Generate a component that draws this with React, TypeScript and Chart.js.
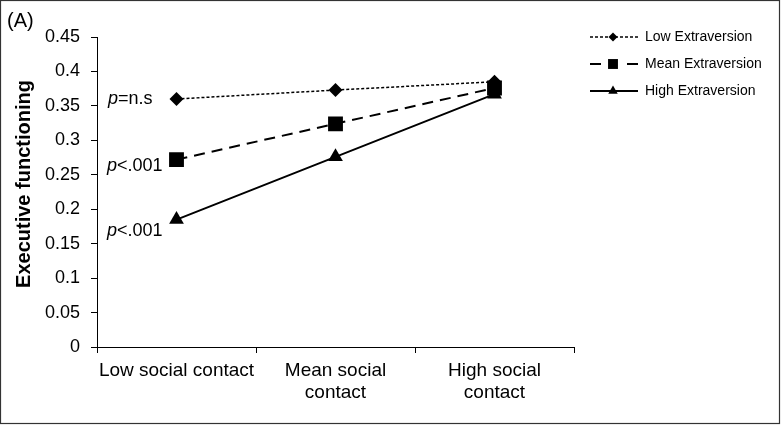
import React, { useEffect, useRef } from 'react';
import { Chart, registerables } from 'chart.js';

Chart.register(...registerables);

const categories: (string | string[])[] = ['Low social contact', ['Mean social', 'contact'], ['High social', 'contact']];
const seriesNames = ['Low Extraversion', 'Mean Extraversion', 'High Extraversion'];
const lowExtraversion = [0.36, 0.373, 0.385];
const meanExtraversion = [0.272, 0.324, 0.376];
const highExtraversion = [0.185, 0.276, 0.367];
const yTicks = [0, 0.05, 0.1, 0.15, 0.2, 0.25, 0.3, 0.35, 0.4, 0.45];
const yTickLabels = ['0', '0.05', '0.1', '0.15', '0.2', '0.25', '0.3', '0.35', '0.4', '0.45'];
const annotationItalic = ['p', 'p', 'p'];
const annotationRest = ['=n.s', '<.001', '<.001'];
const yAxisTitle = 'Executive functioning';
const panelLabel = '(A)';

const FONT = "'Liberation Sans', Arial, sans-serif";

const seriesStyles = [
  { dash: [3, 2], width: 1.5, point: 'rectRot', radius: 7, legendRadius: 4.5 },
  { dash: [11, 7], width: 2, point: 'rect', radius: 10.5, legendRadius: 7 },
  { dash: [], width: 2, point: 'triangle', radius: 8.5, legendRadius: 5.5 },
];

const annotationOffsets = [
  { dx: -24, dy: 0 },
  { dx: -14, dy: 6 },
  { dx: -14, dy: 11 },
];

function drawMarker(ctx: CanvasRenderingContext2D, style: string, x: number, y: number, r: number) {
  ctx.beginPath();
  if (style === 'rectRot') {
    ctx.moveTo(x, y - r);
    ctx.lineTo(x + r, y);
    ctx.lineTo(x, y + r);
    ctx.lineTo(x - r, y);
  } else if (style === 'rect') {
    const s = r * Math.SQRT1_2;
    ctx.rect(x - s, y - s, 2 * s, 2 * s);
  } else {
    const w = (r * Math.sqrt(3)) / 2;
    ctx.moveTo(x, y - r);
    ctx.lineTo(x + w, y + r / 2);
    ctx.lineTo(x - w, y + r / 2);
  }
  ctx.closePath();
  ctx.fill();
}

const extrasPlugin = {
  id: 'extras',
  afterDraw(chart: any) {
    const ctx = chart.ctx;
    const xs = chart.scales.x;
    const ys = chart.scales.y;
    ctx.save();
    // frame
    ctx.strokeStyle = '#333';
    ctx.lineWidth = 1.2;
    ctx.setLineDash([]);
    ctx.strokeRect(0.5, 0.5, chart.width - 2, chart.height - 2);
    // panel label
    ctx.fillStyle = '#000';
    ctx.font = `20px ${FONT}`;
    ctx.textAlign = 'left';
    ctx.textBaseline = 'middle';
    ctx.fillText(panelLabel, 7, 21);
    // y axis title
    ctx.save();
    ctx.translate(24, 184);
    ctx.rotate(-Math.PI / 2);
    ctx.font = `bold 20px ${FONT}`;
    ctx.textAlign = 'center';
    ctx.textBaseline = 'middle';
    ctx.fillText(yAxisTitle, 0, 0);
    ctx.restore();
    // annotations
    const allData = [lowExtraversion, meanExtraversion, highExtraversion];
    for (let i = 0; i < 3; i++) {
      const px = xs.getPixelForValue(0) + annotationOffsets[i].dx;
      const py = ys.getPixelForValue(allData[i][0]) + annotationOffsets[i].dy;
      ctx.font = `18px ${FONT}`;
      const restW = ctx.measureText(annotationRest[i]).width;
      ctx.font = `italic 18px ${FONT}`;
      const pW = ctx.measureText(annotationItalic[i]).width;
      const startX = px - restW - pW;
      ctx.textAlign = 'left';
      ctx.textBaseline = 'middle';
      ctx.fillText(annotationItalic[i], startX, py);
      ctx.font = `18px ${FONT}`;
      ctx.fillText(annotationRest[i], startX + pW, py);
    }
    // legend
    const legendX0 = 590;
    const legendX1 = 638;
    const markerX = 613;
    const rows = [37, 64, 91];
    for (let i = 0; i < 3; i++) {
      const st = seriesStyles[i];
      const y = rows[i];
      ctx.strokeStyle = '#000';
      ctx.lineWidth = st.width;
      ctx.beginPath();
      if (i === 1) {
        ctx.setLineDash([]);
        ctx.moveTo(legendX0, y);
        ctx.lineTo(legendX0 + 11, y);
        ctx.moveTo(legendX1 - 11, y);
        ctx.lineTo(legendX1, y);
      } else {
        ctx.setLineDash(st.dash);
        ctx.moveTo(legendX0, y);
        ctx.lineTo(legendX1, y);
      }
      ctx.stroke();
      ctx.setLineDash([]);
      ctx.fillStyle = '#000';
      drawMarker(ctx, st.point, markerX, y, st.legendRadius);
      ctx.font = `14px ${FONT}`;
      ctx.textAlign = 'left';
      ctx.textBaseline = 'middle';
      ctx.fillText(seriesNames[i], 645, y);
    }
    ctx.restore();
  },
};

export default function App() {
  const canvasRef = useRef<HTMLCanvasElement | null>(null);

  useEffect(() => {
    if (!canvasRef.current) return;
    const allData = [lowExtraversion, meanExtraversion, highExtraversion];
    const chart = new Chart(canvasRef.current, {
      type: 'line',
      data: {
        labels: categories as any,
        datasets: allData.map((d, i) => ({
          label: seriesNames[i],
          data: d,
          borderColor: '#000',
          backgroundColor: '#000',
          borderWidth: seriesStyles[i].width,
          borderDash: seriesStyles[i].dash,
          pointStyle: seriesStyles[i].point as any,
          pointRadius: seriesStyles[i].radius,
          pointBackgroundColor: '#000',
          pointBorderColor: '#000',
          pointBorderWidth: 0,
          tension: 0,
          fill: false,
        })),
      },
      options: {
        animation: false,
        responsive: true,
        maintainAspectRatio: false,
        layout: { padding: { left: 0, top: 37, right: 207, bottom: 0 } },
        plugins: {
          legend: { display: false },
          tooltip: { enabled: false },
        },
        scales: {
          x: {
            type: 'category',
            offset: true,
            grid: { drawOnChartArea: false, color: '#000', tickLength: 6, offset: true },
            border: { color: '#000', width: 1 },
            ticks: {
              color: '#000',
              font: { family: FONT, size: 19 },
              maxRotation: 0,
              minRotation: 0,
              autoSkip: false,
              padding: 6,
            },
            afterFit: (s: any) => {
              s.height = 78;
            },
          },
          y: {
            min: 0,
            max: 0.45,
            afterBuildTicks: (s: any) => {
              s.ticks = yTicks.map((v) => ({ value: v }));
            },
            grid: { drawOnChartArea: false, color: '#000', tickLength: 6 },
            border: { color: '#000', width: 1 },
            ticks: {
              color: '#000',
              font: { family: FONT, size: 18 },
              padding: 11,
              callback: (_v: any, i: number) => yTickLabels[i],
            },
            title: { display: false },
            afterFit: (s: any) => {
              s.width = 97;
            },
          },
        },
      },
      plugins: [extrasPlugin],
    });
    return () => chart.destroy();
  }, []);

  return (
    <div style={{ position: 'fixed', left: 0, top: 0, width: 781, height: 425, background: '#fff' }}>
      <canvas ref={canvasRef} />
    </div>
  );
}
